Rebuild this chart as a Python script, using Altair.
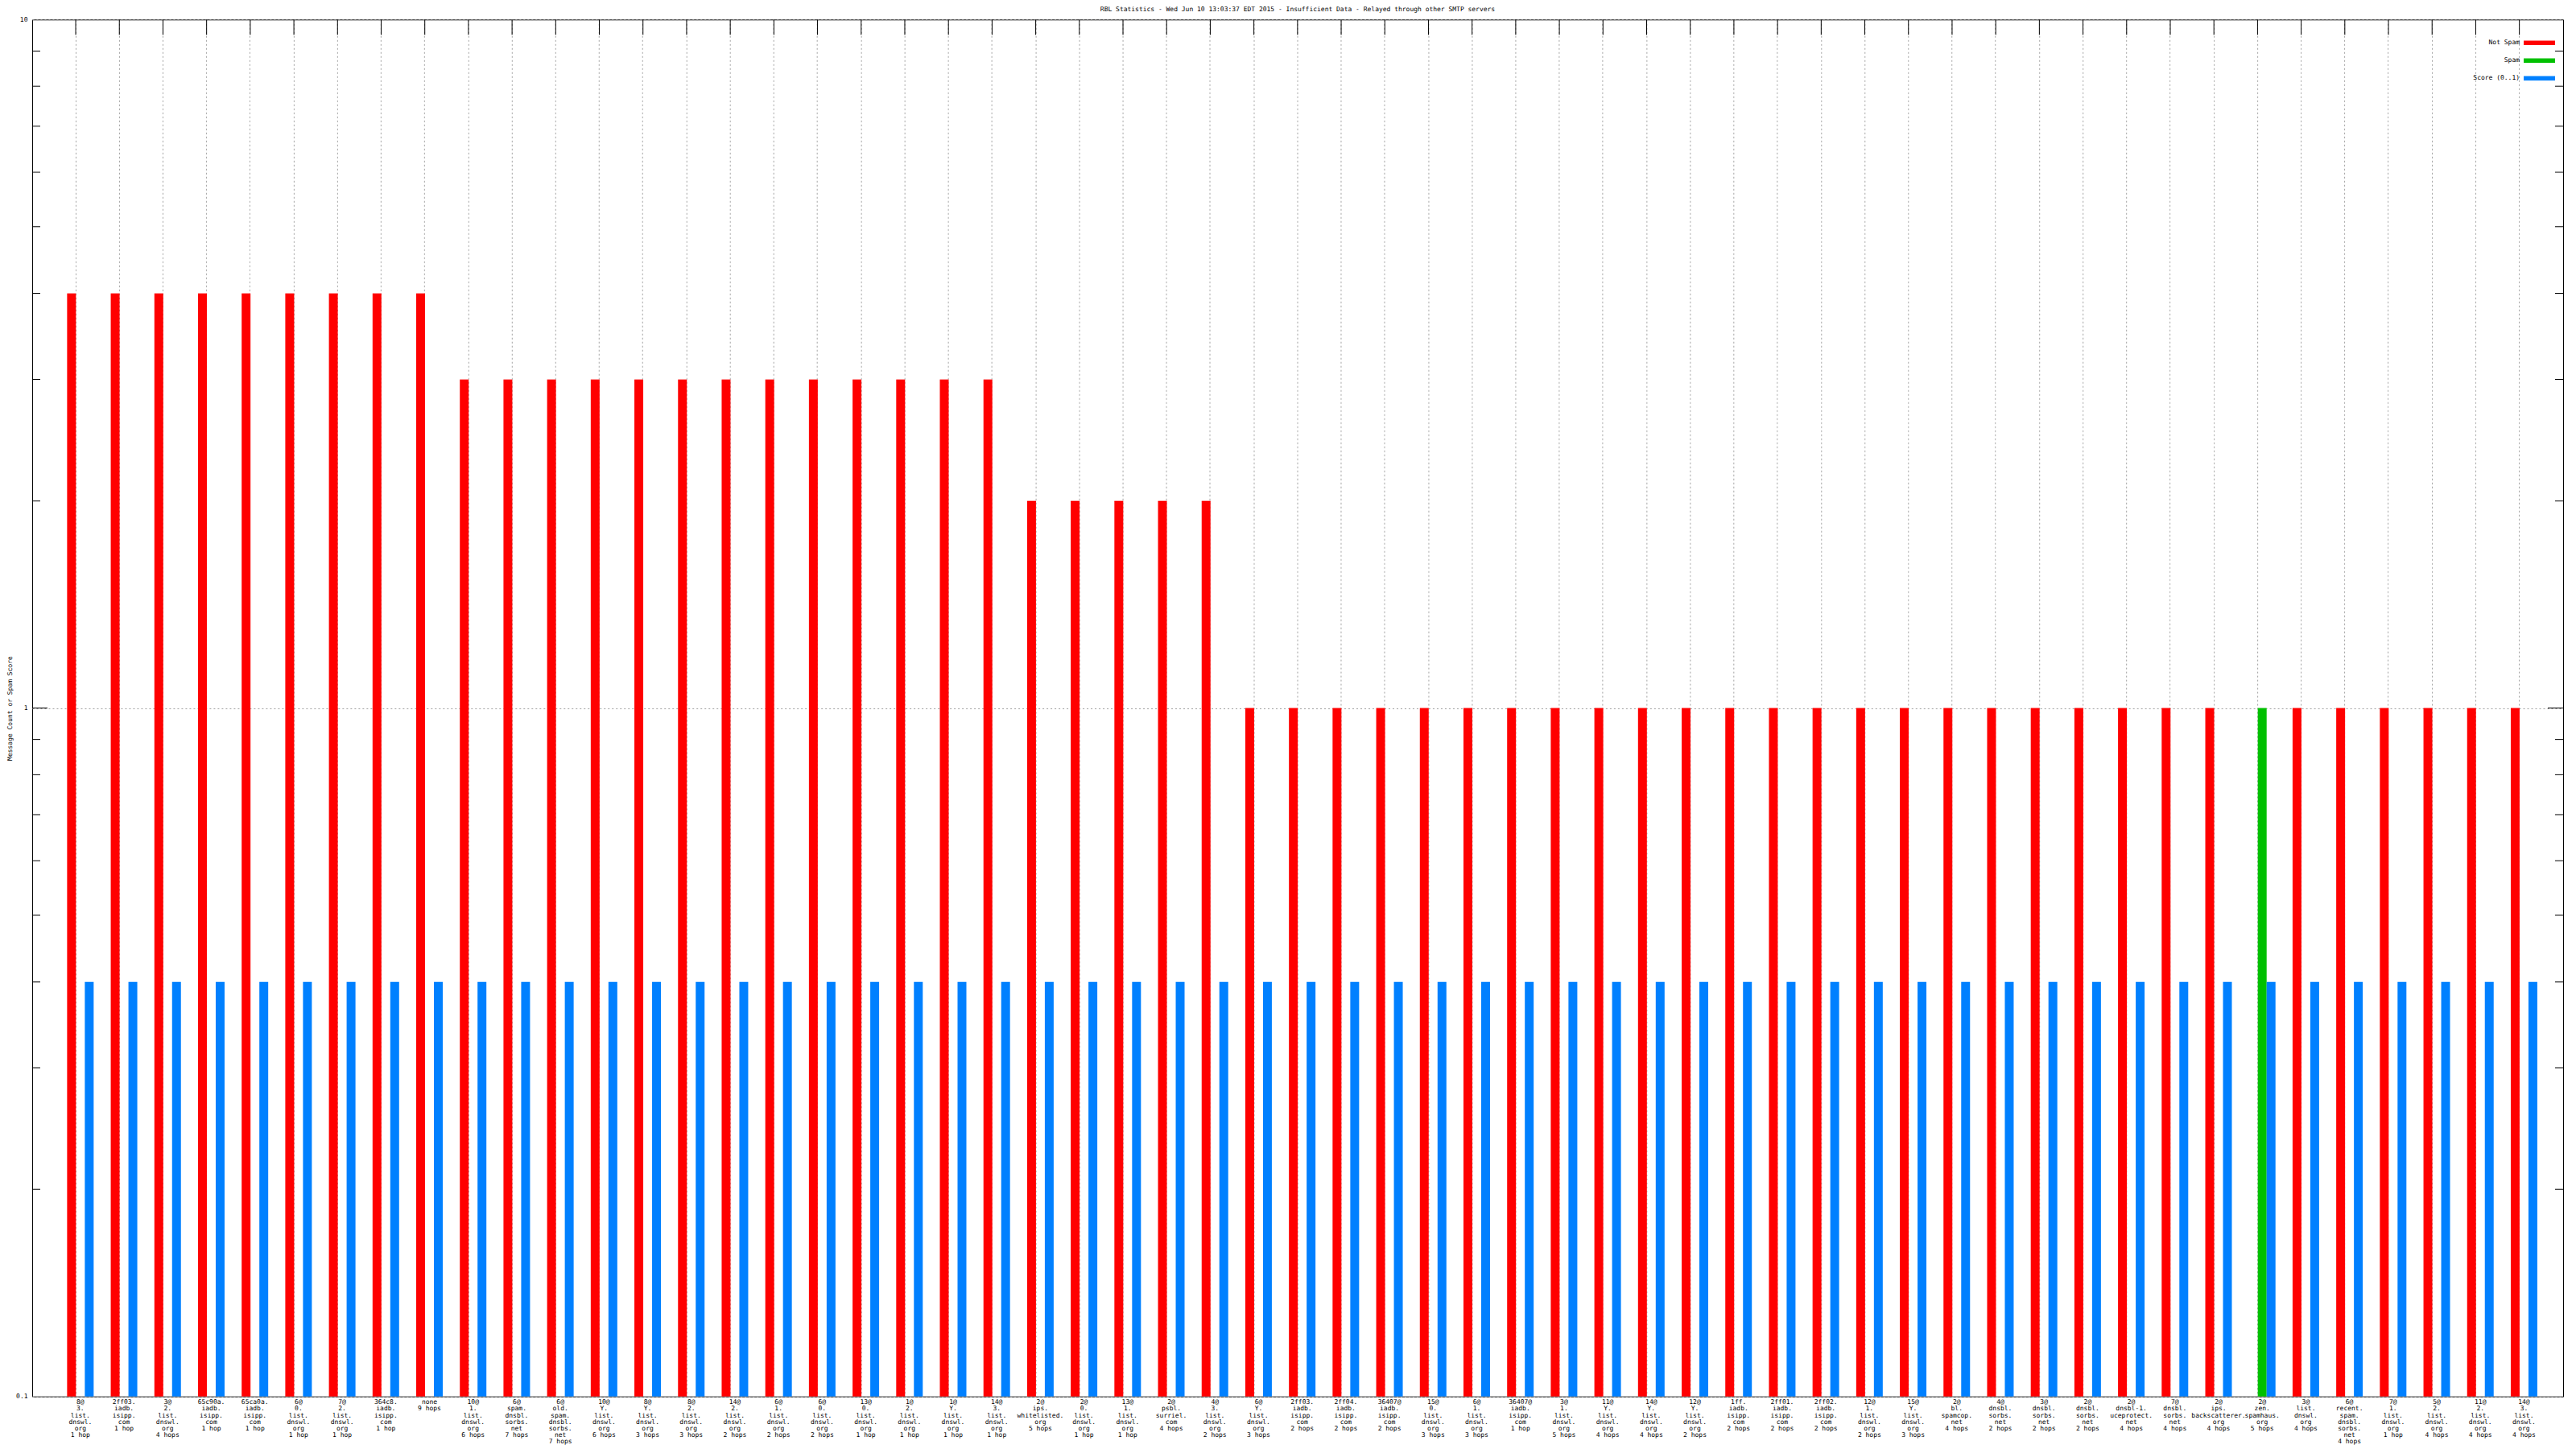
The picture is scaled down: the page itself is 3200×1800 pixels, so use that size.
import altair as alt
import pandas as pd

# ---------------- data ----------------
categories = [
    "8@|3.|list.|dnswl.|org|1 hop",
    "2ff03.|iadb.|isipp.|com|1 hop",
    "3@|2.|list.|dnswl.|org|4 hops",
    "65c90a.|iadb.|isipp.|com|1 hop",
    "65ca0a.|iadb.|isipp.|com|1 hop",
    "6@|0.|list.|dnswl.|org|1 hop",
    "7@|2.|list.|dnswl.|org|1 hop",
    "364c8.|iadb.|isipp.|com|1 hop",
    "none|9 hops",
    "10@|1.|list.|dnswl.|org|6 hops",
    "6@|spam.|dnsbl.|sorbs.|net|7 hops",
    "6@|old.|spam.|dnsbl.|sorbs.|net|7 hops",
    "10@|Y.|list.|dnswl.|org|6 hops",
    "8@|Y.|list.|dnswl.|org|3 hops",
    "8@|2.|list.|dnswl.|org|3 hops",
    "14@|2.|list.|dnswl.|org|2 hops",
    "6@|1.|list.|dnswl.|org|2 hops",
    "6@|0.|list.|dnswl.|org|2 hops",
    "13@|0.|list.|dnswl.|org|1 hop",
    "1@|2.|list.|dnswl.|org|1 hop",
    "1@|Y.|list.|dnswl.|org|1 hop",
    "14@|3.|list.|dnswl.|org|1 hop",
    "2@|ips.|whitelisted.|org|5 hops",
    "2@|0.|list.|dnswl.|org|1 hop",
    "13@|1.|list.|dnswl.|org|1 hop",
    "2@|psbl.|surriel.|com|4 hops",
    "4@|3.|list.|dnswl.|org|2 hops",
    "6@|Y.|list.|dnswl.|org|3 hops",
    "2ff03.|iadb.|isipp.|com|2 hops",
    "2ff04.|iadb.|isipp.|com|2 hops",
    "36407@|iadb.|isipp.|com|2 hops",
    "15@|0.|list.|dnswl.|org|3 hops",
    "6@|1.|list.|dnswl.|org|3 hops",
    "36407@|iadb.|isipp.|com|1 hop",
    "3@|1.|list.|dnswl.|org|5 hops",
    "11@|Y.|list.|dnswl.|org|4 hops",
    "14@|Y.|list.|dnswl.|org|4 hops",
    "12@|Y.|list.|dnswl.|org|2 hops",
    "1ff.|iadb.|isipp.|com|2 hops",
    "2ff01.|iadb.|isipp.|com|2 hops",
    "2ff02.|iadb.|isipp.|com|2 hops",
    "12@|1.|list.|dnswl.|org|2 hops",
    "15@|Y.|list.|dnswl.|org|3 hops",
    "2@|bl.|spamcop.|net|4 hops",
    "4@|dnsbl.|sorbs.|net|2 hops",
    "3@|dnsbl.|sorbs.|net|2 hops",
    "2@|dnsbl.|sorbs.|net|2 hops",
    "2@|dnsbl-1.|uceprotect.|net|4 hops",
    "7@|dnsbl.|sorbs.|net|4 hops",
    "2@|ips.|backscatterer.|org|4 hops",
    "2@|zen.|spamhaus.|org|5 hops",
    "3@|list.|dnswl.|org|4 hops",
    "6@|recent.|spam.|dnsbl.|sorbs.|net|4 hops",
    "7@|1.|list.|dnswl.|org|1 hop",
    "5@|2.|list.|dnswl.|org|4 hops",
    "11@|2.|list.|dnswl.|org|4 hops",
    "14@|3.|list.|dnswl.|org|4 hops",
]

not_spam = [4, 4, 4, 4, 4, 4, 4, 4, 4,
            3, 3, 3, 3, 3, 3, 3, 3, 3, 3, 3, 3, 3,
            2, 2, 2, 2, 2,
            1, 1, 1, 1, 1, 1, 1, 1, 1, 1, 1, 1, 1, 1, 1, 1, 1, 1, 1, 1, 1, 1, 1,
            None,
            1, 1, 1, 1, 1, 1]

spam = [None, None, None, None, None, None, None, None, None, None,
        None, None, None, None, None, None, None, None, None, None,
        None, None, None, None, None, None, None, None, None, None,
        None, None, None, None, None, None, None, None, None, None,
        None, None, None, None, None, None, None, None, None, None,
        1, None, None, None, None, None, None]

score = [0.4, 0.4, 0.4, 0.4, 0.4, 0.4, 0.4, 0.4, 0.4, 0.4,
         0.4, 0.4, 0.4, 0.4, 0.4, 0.4, 0.4, 0.4, 0.4, 0.4,
         0.4, 0.4, 0.4, 0.4, 0.4, 0.4, 0.4, 0.4, 0.4, 0.4,
         0.4, 0.4, 0.4, 0.4, 0.4, 0.4, 0.4, 0.4, 0.4, 0.4,
         0.4, 0.4, 0.4, 0.4, 0.4, 0.4, 0.4, 0.4, 0.4, 0.4,
         0.4, 0.4, 0.4, 0.4, 0.4, 0.4, 0.4]

series_names = ["Not Spam", "Spam", "Score (0..1)"]
series_colors = ["#ff0000", "#00c000", "#0080ff"]

y_major = [1]
y_minor = [0.2, 0.3, 0.4, 0.5, 0.6, 0.7, 0.8, 0.9, 2, 3, 4, 5, 6, 7, 8, 9]
y_label_values = [0.1, 1, 10]

title_text = ("RBL Statistics - Wed Jun 10 13:03:37 EDT 2015 - Insufficient Data - "
              "Relayed through other SMTP servers")

# ---------------- tables ----------------
keys = [f"{i:02d}#{c}" for i, c in enumerate(categories)]
rows = []
for k, ns, sp, sc in zip(keys, not_spam, spam, score):
    if ns is not None:
        rows.append({"key": k, "series": "Not Spam", "value": ns})
    if sp is not None:
        rows.append({"key": k, "series": "Spam", "value": sp})
    if sc is not None:
        rows.append({"key": k, "series": "Score (0..1)", "value": sc})
df = pd.DataFrame(rows)
df_cats = pd.DataFrame({"key": keys})
df_minor = pd.DataFrame({"value": y_minor})
df_major = pd.DataFrame({"value": y_major})

W, H = 3145, 1711
FONT = "DejaVu Sans Mono"

xscale = alt.Scale(paddingInner=0.3914, paddingOuter=0.6957, align=0.575, round=False)
yscale = alt.Scale(type="log", domain=[0.1, 10], nice=False, zero=False)

bars = alt.Chart(df).mark_bar(strokeWidth=0).encode(
    x=alt.X(
        "key:N", sort=keys, scale=xscale, title=None,
        axis=alt.Axis(
            bandPosition=0.324,
            labelExpr="split(slice(datum.label, 3), '|')",
            labelAngle=0, labelAlign="center", labelBaseline="top",
            labelPadding=3, labelLineHeight=8.2, labelOverlap=False,
            labelLimit=300, ticks=False, tickSize=0, domain=False,
            grid=True, gridDash=[2, 3], gridColor="#a0a0a0", gridWidth=1,
        ),
    ),
    xOffset=alt.XOffset(
        "series:N",
        scale=alt.Scale(domain=series_names, paddingInner=0, paddingOuter=0),
    ),
    y=alt.Y(
        "value:Q", scale=yscale,
        axis=alt.Axis(
            values=y_label_values, labelExpr="toString(datum.value)",
            title="Message Count or Spam Score",
            titleX=-23, titleY=H / 2,
            labelPadding=6, labelFlush=False, ticks=False, tickSize=0,
            domain=False, grid=True, gridDash=[2, 3], gridColor="#a0a0a0",
            gridWidth=1,
        ),
    ),
    y2=alt.datum(0.1),
    color=alt.Color(
        "series:N",
        scale=alt.Scale(domain=series_names, range=series_colors),
        legend=alt.Legend(
            title=None, orient="none", legendX=3104.5, legendY=18,
            symbolType="M-1.77,-0.25L1.77,-0.25L1.77,0.25L-1.77,0.25Z",
            symbolSize=484, symbolStrokeWidth=0, symbolOpacity=1,
            labelAlign="right", labelBaseline="middle",
            labelOffset={"expr": "-35.5"},
            labelFont=FONT, labelFontSize=8, labelColor="black",
            rowPadding=7, padding=0,
        ),
    ),
)

top_ticks = alt.Chart(df_cats).mark_rule(color="black", strokeWidth=1).encode(
    x=alt.X("key:N", sort=keys, bandPosition=0.324),
    y=alt.value(0),
    y2=alt.value(19),
)

left_minor = alt.Chart(df_minor).mark_rule(color="black", strokeWidth=1).encode(
    y=alt.Y("value:Q"), x=alt.value(0), x2=alt.value(10))
right_minor = alt.Chart(df_minor).mark_rule(color="black", strokeWidth=1).encode(
    y=alt.Y("value:Q"), x=alt.value(W - 10), x2=alt.value(W))
left_major = alt.Chart(df_major).mark_rule(color="black", strokeWidth=1).encode(
    y=alt.Y("value:Q"), x=alt.value(0), x2=alt.value(19))
right_major = alt.Chart(df_major).mark_rule(color="black", strokeWidth=1).encode(
    y=alt.Y("value:Q"), x=alt.value(W - 19), x2=alt.value(W))

chart = alt.layer(
    bars, top_ticks, left_minor, right_minor, left_major, right_major
).properties(
    width=W, height=H,
    title=alt.TitleParams(
        text=title_text, font=FONT, fontSize=8, fontWeight="normal",
        color="black", anchor="middle", offset=4,
    ),
    autosize=alt.AutoSizeParams(type="none"),
    padding={"left": 32, "top": 16, "right": 8, "bottom": 62},
    background="white",
).configure_view(
    stroke="black", strokeWidth=1
).configure_axis(
    labelFont=FONT, labelFontSize=8, labelColor="black",
    titleFont=FONT, titleFontSize=8, titleFontWeight="normal", titleColor="black",
)

chart.save("out.html", embed_options={"renderer": "svg", "actions": False})
